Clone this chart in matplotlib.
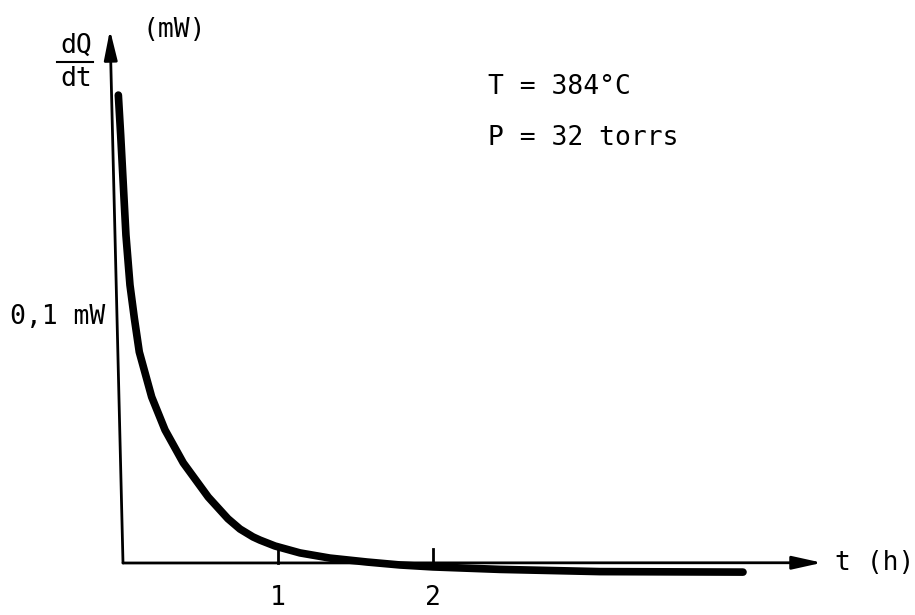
import matplotlib
matplotlib.use("Agg")
import matplotlib.pyplot as plt

# courbe : t en heures, dQ/dt en mW
t_h = [-0.030, -0.015, 0.002, 0.019, 0.045, 0.073, 0.105, 0.185, 0.271,
       0.389, 0.550, 0.677, 0.755, 0.839, 0.884, 0.981, 1.142, 1.335, 1.574,
       1.787, 2.000, 2.432, 3.077, 4.000]
dqdt_mw = [0.1902, 0.1740, 0.1537, 0.1333, 0.1130, 0.0996, 0.0858, 0.0675, 0.0541,
           0.0407, 0.0268, 0.0180, 0.0138, 0.0106, 0.0093, 0.0069, 0.0041, 0.0020,
           0.0004, -0.0008, -0.0016, -0.0026, -0.0035, -0.0037]

ticks_t = [1, 2]
ticks_labels = ["1", "2"]
y_ref_mw = 0.1
y_ref_label = "0,1 mW"
conditions = ["T = 384°C", "P = 32 torrs"]

FONT = "DejaVu Sans Mono"
FS = 19

fig = plt.figure(figsize=(9.15, 6.15), dpi=100)
ax = fig.add_axes([0, 0, 1, 1])
ax.set_xlim(-123 / 155, (915 - 123) / 155)
ax.set_ylim(-52 / 2460, 563 / 2460)
ax.axis("off")

# axes avec fleches
arrow = dict(arrowstyle="-|>,head_length=1.8,head_width=0.4", mutation_scale=10,
             lw=2, color="black", shrinkA=0, shrinkB=0)
ax.annotate("", xy=(-0.084, 0.2167), xytext=(0, 0), arrowprops=arrow)
ax.annotate("", xy=(4.51, 0.0001), xytext=(0, 0), arrowprops=arrow)

# graduations
for t, lab in zip(ticks_t, ticks_labels):
    ax.plot([t, t], [0, 0.0057], color="black", lw=2)
    ax.text(t, -0.0142, lab, ha="center", va="center", family=FONT, fontsize=FS)

# courbe
ax.plot(t_h, dqdt_mw, color="black", lw=5.5, solid_capstyle="round",
        solid_joinstyle="round")

# textes
ax.text(-0.116, y_ref_mw, y_ref_label, ha="right", va="center", family=FONT, fontsize=FS)
ax.text(835 / 915, 1 - 563 / 615, "t (h)", transform=ax.transAxes, ha="left",
        va="center", family=FONT, fontsize=FS)
ax.text(143 / 915, 1 - 30 / 615, "(mW)", transform=ax.transAxes, ha="left",
        va="center", family=FONT, fontsize=FS)
ax.text(76 / 915, 1 - 46 / 615, "dQ", transform=ax.transAxes, ha="center",
        va="center", family=FONT, fontsize=FS)
ax.text(76 / 915, 1 - 79 / 615, "dt", transform=ax.transAxes, ha="center",
        va="center", family=FONT, fontsize=FS)
ax.plot([57 / 915, 93 / 915], [1 - 62 / 615, 1 - 62 / 615], transform=ax.transAxes,
        color="black", lw=1.5)
for i, s in enumerate(conditions):
    ax.text(488 / 915, 1 - (87 + 51 * i) / 615, s, transform=ax.transAxes,
            ha="left", va="center", family=FONT, fontsize=FS)

fig.savefig("out.png", dpi=100)
